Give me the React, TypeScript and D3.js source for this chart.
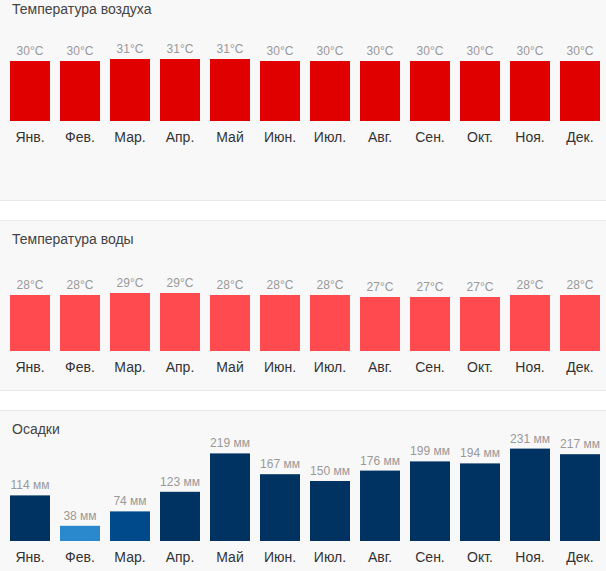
import React from "react";
import * as d3 from "d3";

const months = ["Янв.", "Фев.", "Мар.", "Апр.", "Май", "Июн.", "Июл.", "Авг.", "Сен.", "Окт.", "Ноя.", "Дек."];
const airTemp = [30, 30, 31, 31, 31, 30, 30, 30, 30, 30, 30, 30];
const waterTemp = [28, 28, 29, 29, 28, 28, 28, 27, 27, 27, 28, 28];
const rain = [114, 38, 74, 123, 219, 167, 150, 176, 199, 194, 231, 217];
const titles = ["Температура воздуха", "Температура воды", "Осадки"];

const W = 606;
const H = 571;
const FONT = "'Liberation Sans', Arial, Helvetica, sans-serif";

const x = d3.scaleBand<string>().domain(months).range([5, 605]).paddingInner(0.2).paddingOuter(0.1);
const tempH = d3.scaleLinear().domain([0, 50]).range([0, 100]);
const rainH = d3.scaleLinear().domain([0, 250]).range([0, 100]);
const rainColor = d3.scaleThreshold<number, string>().domain([50, 100]).range(["#2a88cc", "#004a8b", "#003361"]);

type PanelProps = {
  title: string;
  values: number[];
  top: number;
  bottom: number;
  titleY: number;
  h: (v: number) => number;
  color: (v: number) => string;
  fmt: (v: number) => string;
  labelSize: number;
};

function Panel({ title, values, top, bottom, titleY, h, color, fmt, labelSize }: PanelProps) {
  const base = titleY + 107;
  return (
    <g>
      <rect x={-1} y={top} width={W + 2} height={bottom - top} fill="#f8f8f8" stroke="#e9e9e9" strokeWidth={1} />
      <text x={12} y={titleY} fontSize={14} fill="#444" fontFamily={FONT}>{title}</text>
      {values.map((v, i) => {
        const m = months[i];
        const bx = x(m)!;
        const bh = h(v);
        const cx = bx + x.bandwidth() / 2;
        return (
          <g key={m}>
            <rect x={bx} y={base - bh} width={x.bandwidth()} height={bh} fill={color(v)} />
            <text x={cx} y={base - bh - 6} textAnchor="middle" fontSize={labelSize} fill="#999" fontFamily={FONT}>{fmt(v)}</text>
            <text x={cx} y={base + 20.5} textAnchor="middle" fontSize={14} fill="#333" fontFamily={FONT}>{m}</text>
          </g>
        );
      })}
    </g>
  );
}

export default function App() {
  return (
    <svg width={W} height={H} style={{ position: "absolute", left: 0, top: 0, background: "#fff" }}>
      <rect x={0} y={0} width={W} height={H} fill="#fff" />
      <Panel title={titles[0]} values={airTemp} top={-10} bottom={200.5} titleY={14} h={tempH} color={() => "#e00000"} fmt={(v) => `${v}°C`} labelSize={12} />
      <Panel title={titles[1]} values={waterTemp} top={220.5} bottom={390.5} titleY={244} h={tempH} color={() => "#ff4a4f"} fmt={(v) => `${v}°C`} labelSize={12} />
      <Panel title={titles[2]} values={rain} top={410.5} bottom={H + 10} titleY={434} h={rainH} color={rainColor} fmt={(v) => `${v} мм`} labelSize={12} />
    </svg>
  );
}
